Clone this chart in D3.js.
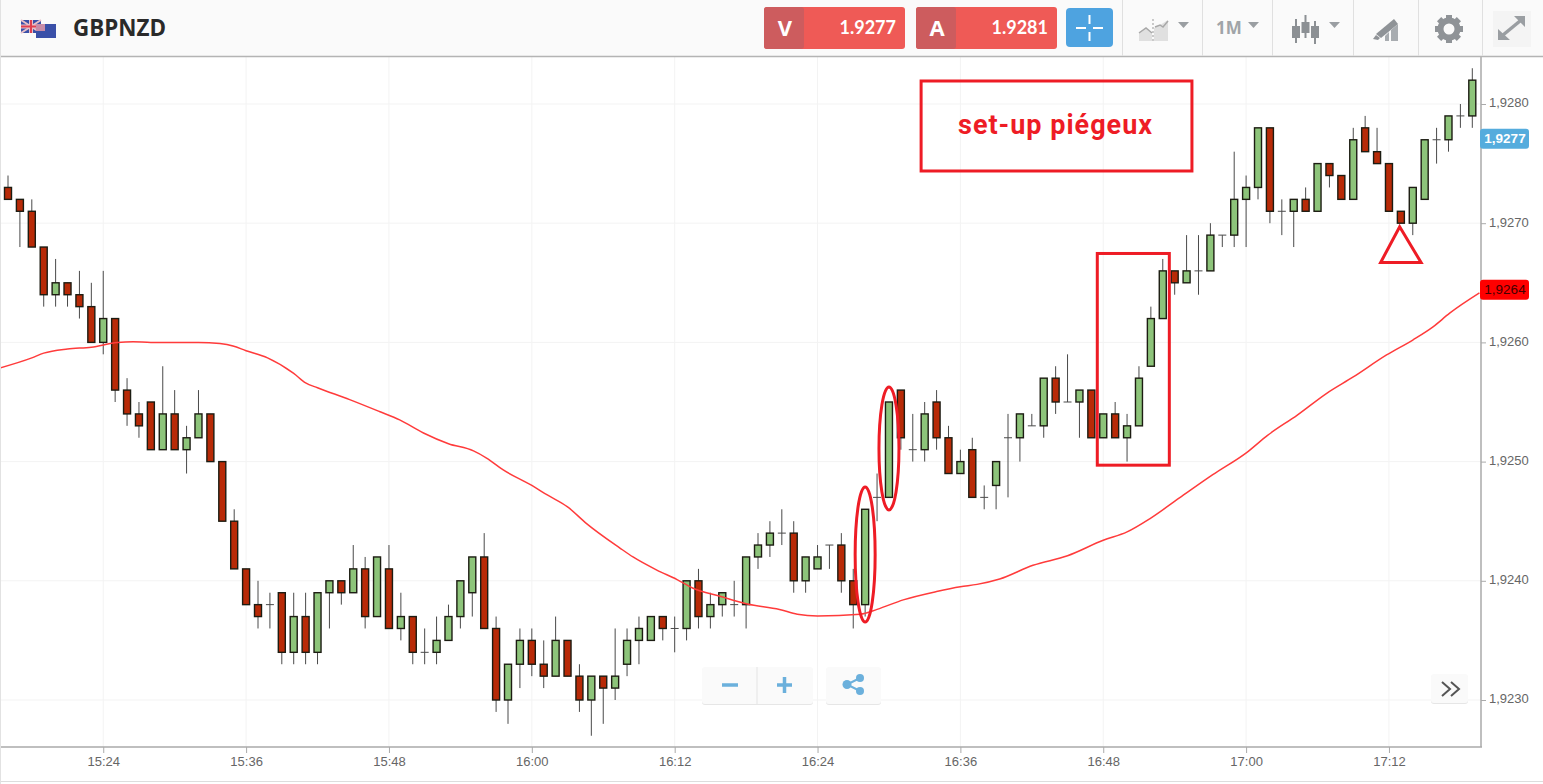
<!DOCTYPE html>
<html lang="fr">
  <head>
    <meta charset="UTF-8" />
    <title>GBPNZD</title>
    <script src="https://cdnjs.cloudflare.com/ajax/libs/d3/7.8.5/d3.min.js"></script>
    <style>
      html, body { margin: 0; padding: 0; background: #fff; overflow: hidden; }
      svg { display: block; }
      .tick text { font-family: "Liberation Sans", Arial, sans-serif; font-size: 13px; fill: #666; }
      .tick line { stroke: #aaa; }
    </style>
  </head>
  <body>
    <script>
      // prices are the digits after "1," (9273 = 1,9273), one candle per minute from 15:16
      var firstCandle = "15:16";
      var opens = [9273,9272,9271,9268,9264,9265,9264,9263,9260,9262,9256,9254,9255,9251,9254,9251,9252,9254,9250,9245,
                   9241,9238,9238,9239,9234,9237,9234,9239,9240,9239,9241,9237,9241,9236,9237,9234,9234,9235,9237,9239,
                   9242,9236,9230,9233,9235,9233,9232,9235,9232,9230,9232,9231,9233,9235,9235,9237,9236,9236,9240,9237,
                   9238,9238,9238,9242,9243,9244,9244,9240,9241,9243,9243,9240,9238,9247,9247,9256,9251,9251,9255,9252,
                   9249,9251,9247,9248,9252,9252,9253,9253,9257,9255,9255,9256,9252,9254,9252,9253,9258,9262,9266,9265,
                   9266,9266,9269,9269,9272,9273,9278,9271,9271,9272,9271,9275,9274,9272,9278,9276,9275,9271,9270,9272,
                   9277,9277,9279,9279];
      var highs = [9274,9272,9272,9268,9267,9265,9266,9265,9266,9262,9257,9255,9255,9258,9256,9253,9256,9254,9250,9246,
                   9241,9240,9239,9239,9239,9239,9239,9240,9240,9243,9242,9242,9243,9239,9237,9236,9237,9238,9240,9242,
                   9244,9237,9233,9236,9236,9235,9237,9235,9233,9232,9232,9236,9236,9237,9237,9237,9237,9240,9241,9239,
                   9239,9240,9242,9244,9245,9246,9245,9242,9243,9243,9244,9241,9246,9249,9255,9256,9254,9255,9256,9253,
                   9251,9252,9248,9250,9254,9254,9254,9257,9258,9259,9256,9256,9254,9255,9254,9258,9263,9267,9266,9269,
                   9269,9270,9269,9276,9274,9278,9278,9272,9272,9273,9275,9275,9274,9278,9279,9278,9275,9271,9273,9277,
                   9278,9279,9280,9283];
      var lows = [9272,9268,9268,9263,9263,9263,9262,9260,9259,9255,9253,9252,9251,9251,9251,9249,9252,9250,9245,9241,
                  9238,9236,9236,9233,9233,9233,9233,9236,9238,9239,9236,9237,9236,9235,9233,9233,9233,9235,9236,9237,
                  9236,9229,9228,9231,9232,9231,9232,9232,9229,9227,9228,9230,9232,9233,9235,9235,9234,9235,9236,9236,
                  9237,9237,9236,9241,9242,9243,9239,9239,9241,9241,9239,9236,9237,9245,9247,9251,9250,9250,9251,9249,
                  9249,9247,9246,9246,9247,9250,9253,9252,9254,9255,9252,9252,9252,9252,9250,9253,9258,9262,9264,9265,
                  9264,9266,9268,9268,9268,9272,9270,9269,9268,9271,9271,9273,9272,9272,9276,9275,9271,9270,9269,9272,
                  9275,9276,9278,9278];
      var closes = [9272,9271,9268,9264,9265,9264,9263,9260,9262,9256,9254,9253,9251,9254,9251,9252,9254,9250,9245,9241,
                    9238,9237,9238,9234,9237,9234,9239,9240,9239,9241,9237,9242,9236,9237,9234,9234,9235,9237,9240,9242,
                    9236,9230,9233,9235,9233,9232,9235,9232,9230,9232,9231,9232,9235,9236,9237,9236,9236,9240,9237,9238,
                    9239,9238,9242,9243,9244,9244,9240,9242,9242,9243,9240,9238,9246,9247,9255,9252,9251,9254,9252,9249,
                    9250,9247,9247,9250,9252,9254,9253,9257,9255,9255,9256,9252,9254,9252,9253,9257,9262,9266,9265,9266,
                    9266,9269,9269,9272,9273,9278,9271,9271,9272,9271,9275,9274,9272,9277,9276,9275,9271,9270,9273,9277,
                    9277,9279,9279,9282];

      // moving average, minutes after the first candle and price
      var maMinutes = [-0.7,2,3,5,7,9.2,10.5,12,16,17.8,18.9,20,21.8,24,25,26,28.7,31.2,32.9,34.9,37,39.1,40.2,41.6,44,45.3,47,48.6,
                       51.4,52.5,54.5,56.2,57.5,59.8,62.1,64.8,66.3,68,71.6,73,75.2,78,80,81.4,83.3,86.1,89,92,94,95.9,98.4,
                       101.2,104.1,105.8,108.3,110.8,113,115.8,118,119.7,121.1,123.6];
      var maValues = [9257.85,9258.7,9259.1,9259.45,9259.6,9260,9260.06,9260,9260,9259.9,9259.7,9259.3,9258.7,9257.4,9256.6,9256.2,
                      9255.2,9254.2,9253.5,9252.4,9251.5,9250.9,9250.3,9249.3,9248,9247.2,9246.2,9244.8,
                      9242.75,9242,9240.9,9240.1,9239.4,9238.7,9238.05,9237.6,9237.2,9237.05,9237.2,9237.6,9238.4,9239.1,
                      9239.5,9239.7,9240.15,9241.3,9242.1,9243.4,9244.1,9245.2,9246.95,
                      9248.9,9250.8,9252.2,9253.9,9255.75,9257.1,9258.95,9260.2,9261.3,9262.45,9264.15];

      var timeTicks = ["15:24","15:36","15:48","16:00","16:12","16:24","16:36","16:48","17:00","17:12"];
      var priceTicks = [9230,9240,9250,9260,9270,9280];

      var w = 1543, h = 784;
      var plotRight = 1481, plotBottom = 747, plotTop = 57;

      var parseTime = d3.timeParse("%H:%M");
      var formatTime = d3.timeFormat("%H:%M");
      var t0 = parseTime(firstCandle);
      function minute(m) { return new Date(t0.getTime() + m * 60000); }

      var xScale = d3.scaleTime()
                     .domain([minute(0), minute(123)])
                     .range([8, 1472.3]);
      var yScale = d3.scaleLinear()
                     .domain([9230, 9280])
                     .range([700, 104]);

      var svg = d3.select("body").append("svg")
                  .attr("width", w)
                  .attr("height", h);

      svg.append("rect").attr("width", w).attr("height", h).attr("fill", "#fff");

      // grid
      svg.selectAll(".vgrid").data(timeTicks).enter().append("line")
         .attr("class", "vgrid")
         .attr("x1", function(d) { return xScale(parseTime(d)); })
         .attr("x2", function(d) { return xScale(parseTime(d)); })
         .attr("y1", plotTop).attr("y2", plotBottom)
         .attr("stroke", "#f3f3f3");
      svg.selectAll(".hgrid").data(priceTicks).enter().append("line")
         .attr("class", "hgrid")
         .attr("x1", 0).attr("x2", plotRight)
         .attr("y1", function(d) { return yScale(d); })
         .attr("y2", function(d) { return yScale(d); })
         .attr("stroke", "#f3f3f3");

      // axes
      var xAxis = d3.axisBottom(xScale)
                    .tickValues(timeTicks.map(parseTime))
                    .tickFormat(formatTime)
                    .tickSize(6)
                    .tickSizeOuter(0);
      var yAxis = d3.axisRight(yScale)
                    .tickValues(priceTicks)
                    .tickFormat(function(d) { return "1," + d; })
                    .tickSize(5)
                    .tickSizeOuter(0);
      var gx = svg.append("g").attr("transform", "translate(0," + plotBottom + ")").call(xAxis);
      var gy = svg.append("g").attr("transform", "translate(" + plotRight + ",0)").call(yAxis);
      gx.select(".domain").remove();
      gy.select(".domain").remove();
      gx.selectAll(".tick text").attr("y", 10);
      gy.selectAll(".tick text").attr("x", 8).attr("dy", "0.22em");

      svg.append("line").attr("x1", 0).attr("x2", plotRight + 1).attr("y1", plotBottom).attr("y2", plotBottom)
         .attr("stroke", "#aaa").attr("stroke-width", 1.5);
      svg.append("line").attr("x1", plotRight).attr("x2", plotRight).attr("y1", plotTop).attr("y2", plotBottom)
         .attr("stroke", "#aaa").attr("stroke-width", 1.5);
      svg.append("line").attr("x1", 0).attr("x2", w).attr("y1", 781.5).attr("y2", 781.5).attr("stroke", "#ddd");

      // candles
      var candles = svg.append("g").selectAll("g").data(opens).enter().append("g");
      candles.each(function(d, i) {
        var x = xScale(minute(i));
        var g = d3.select(this);
        g.append("line")
         .attr("x1", x).attr("x2", x)
         .attr("y1", yScale(highs[i])).attr("y2", yScale(lows[i]))
         .attr("stroke", "#4a4a4a");
        if (opens[i] == closes[i]) {
          g.append("line")
           .attr("x1", x - 4).attr("x2", x + 4)
           .attr("y1", yScale(opens[i])).attr("y2", yScale(opens[i]))
           .attr("stroke", "#4a4a4a");
        } else {
          g.append("rect")
           .attr("x", x - 3.5)
           .attr("width", 7)
           .attr("y", yScale(Math.max(opens[i], closes[i])))
           .attr("height", Math.abs(yScale(opens[i]) - yScale(closes[i])))
           .attr("fill", closes[i] > opens[i] ? "#8dc47a" : "#b82a07")
           .attr("stroke", "#1c1c12")
           .attr("stroke-width", 1.4);
        }
      });

      // moving average
      var maLine = d3.line()
                     .x(function(d, i) { return xScale(minute(maMinutes[i])); })
                     .y(function(d) { return yScale(d); })
                     .curve(d3.curveMonotoneX);
      svg.append("path").datum(maValues)
         .attr("d", maLine)
         .attr("fill", "none")
         .attr("stroke", "#ff3b3b")
         .attr("stroke-width", 1.5);

      // drawn-on annotations
      var annotRed = "#ee1c25";
      function boxFrom(m1, m2, p1, p2) {
        svg.append("rect")
           .attr("x", xScale(minute(m1))).attr("y", yScale(p1))
           .attr("width", xScale(minute(m2)) - xScale(minute(m1)))
           .attr("height", yScale(p2) - yScale(p1))
           .attr("fill", "none").attr("stroke", annotRed).attr("stroke-width", 3);
      }
      function ovalAt(m, p1, p2) {
        svg.append("ellipse")
           .attr("cx", xScale(minute(m)))
           .attr("cy", (yScale(p1) + yScale(p2)) / 2)
           .attr("rx", 10)
           .attr("ry", (yScale(p2) - yScale(p1)) / 2)
           .attr("fill", "none").attr("stroke", annotRed).attr("stroke-width", 3);
      }
      boxFrom(76.7, 99.45, 9281.93, 9274.38);
      boxFrom(91.5, 97.55, 9267.46, 9249.7);
      ovalAt(72, 9247.87, 9236.55);
      ovalAt(74, 9256.26, 9245.94);
      svg.append("path")
         .attr("d", d3.line()([[xScale(minute(116.9)), yScale(9269.7)],
                               [xScale(minute(115.3)), yScale(9266.7)],
                               [xScale(minute(118.7)), yScale(9266.7)]]) + "Z")
         .attr("fill", "none").attr("stroke", annotRed).attr("stroke-width", 3);
      svg.append("text")
         .attr("x", xScale(minute(87.95))).attr("y", yScale(9277.45))
         .attr("text-anchor", "middle")
         .style("font-family", "Roboto, sans-serif")
         .style("font-weight", "bold").style("font-size", "27px")
         .attr("fill", annotRed)
         .attr("textLength", 194)
         .text("set-up piégeux");

      // price flags on the axis
      function flag(value, offset, fill, color, weight) {
        var cy = yScale(value) + offset;
        svg.append("rect").attr("x", 1480).attr("y", cy - 10).attr("width", 49).attr("height", 20)
           .attr("rx", 3).attr("fill", fill);
        svg.append("text").attr("x", 1505).attr("y", cy + 4.5).attr("text-anchor", "middle")
           .style("font-family", "'Liberation Sans', Arial, sans-serif")
           .style("font-size", "13.5px").style("font-weight", weight)
           .attr("fill", color).text("1," + value);
      }
      flag(9277, -1, "#55acdd", "#fff", "bold");
      flag(9264, -5, "#ff0000", "#400", "normal");

      // toolbar
      var bar = svg.append("g");
      bar.append("rect").attr("width", w).attr("height", 56).attr("fill", "#fafafa");
      bar.append("line").attr("x1", 0).attr("x2", w).attr("y1", 56.5).attr("y2", 56.5).attr("stroke", "#b4b4b4").attr("stroke-width", 1.5);
      [1122, 1202, 1272, 1353, 1418, 1482].forEach(function(x) {
        bar.append("line").attr("x1", x + 0.5).attr("x2", x + 0.5).attr("y1", 0).attr("y2", 56).attr("stroke", "#e0e0e0");
      });

      function quote(x, letter, value) {
        bar.append("rect").attr("x", x).attr("y", 7).attr("width", 141).attr("height", 42).attr("rx", 3).attr("fill", "#ef5a56");
        bar.append("rect").attr("x", x).attr("y", 7).attr("width", 40).attr("height", 42).attr("rx", 3).attr("fill", "#cd5c5e");
        bar.append("text").attr("x", x + 21).attr("y", 36).attr("text-anchor", "middle")
           .style("font-family", "'Open Sans', sans-serif").style("font-weight", "bold").style("font-size", "22px")
           .attr("fill", "#fff").text(letter);
        bar.append("text").attr("x", x + 132).attr("y", 34).attr("text-anchor", "end")
           .style("font-family", "Lato, sans-serif").style("font-weight", "bold").style("font-size", "18px")
           .attr("fill", "#fff").text(value);
      }
      quote(764, "V", "1.9277");
      quote(916, "A", "1.9281");

      // crosshair button
      bar.append("rect").attr("x", 1066).attr("y", 8).attr("width", 47).attr("height", 39).attr("rx", 4).attr("fill", "#4ea3e0");
      bar.append("path").attr("d", "M1076 28H1086M1093 28H1103M1089.5 15V24M1089.5 32V41")
         .attr("stroke", "#fff").attr("stroke-width", 2).attr("fill", "none");

      // grey toolbar icons
      var iconGrey = "#a0a4a8";
      function caret(x, y) {
        bar.append("path").attr("d", "M" + x + " " + y + "h11l-5.5 6z").attr("fill", "#9a9ea2");
      }
      bar.append("path").attr("d", "M1139 41V32L1146 28L1152 33V41Z").attr("fill", "#e0e0e0");
      bar.append("path").attr("d", "M1154 41V28L1160 25L1168 20V41Z").attr("fill", "#e0e0e0");
      bar.append("path").attr("d", "M1139 33L1146 28L1152 33M1155 27L1160 25L1163 27L1168 21").attr("fill", "none").attr("stroke", "#a8a8a8").attr("stroke-width", 1.5);
      bar.append("line").attr("x1", 1153).attr("x2", 1153).attr("y1", 19).attr("y2", 42).attr("stroke", "#999").attr("stroke-dasharray", "2,2");
      caret(1178, 22);
      bar.append("text").attr("x", 1216).attr("y", 34)
         .style("font-family", "'Open Sans', sans-serif").style("font-weight", "bold").style("font-size", "17px")
         .attr("fill", iconGrey).text("1M");
      caret(1248, 22);
      [[1296, 26, 38, 19, 43], [1305.5, 22, 33, 15, 38], [1315, 26, 38, 21, 44]].forEach(function(c) {
        bar.append("line").attr("x1", c[0]).attr("x2", c[0]).attr("y1", c[3]).attr("y2", c[4]).attr("stroke", "#8c9094").attr("stroke-width", 2);
        bar.append("rect").attr("x", c[0] - 4).attr("y", c[1]).attr("width", 8).attr("height", c[2] - c[1]).attr("fill", "#8c9094");
      });
      caret(1329, 22);
      bar.append("path").attr("d", "M1376 34L1394 19L1398 24L1381 38Z").attr("fill", "#8f9397");
      bar.append("path").attr("d", "M1373 39L1376 35L1380 38L1378 40Z").attr("fill", "#8f9397");
      bar.append("path").attr("d", "M1385 41V36L1389 32V41ZM1391 41V30L1398 24V41Z").attr("fill", "#a8acb0");
      // gear
      var gear = bar.append("g").attr("transform", "translate(1449,29)");
      d3.range(8).forEach(function(i) {
        gear.append("rect").attr("x", -3).attr("y", -14).attr("width", 6).attr("height", 8)
            .attr("fill", "#8f9397").attr("transform", "rotate(" + i * 45 + ")");
      });
      gear.append("circle").attr("r", 8.5).attr("fill", "none").attr("stroke", "#8f9397").attr("stroke-width", 6);
      // expand
      bar.append("rect").attr("x", 1493).attr("y", 11).attr("width", 38).attr("height", 36).attr("fill", "#f4f4f4");
      bar.append("path").attr("d", "M1503 35L1520 21").attr("stroke", "#9a9ea2").attr("stroke-width", 3.5);
      bar.append("path").attr("d", "M1498 29V40H1510ZM1514 16H1525V27Z").attr("fill", "#9a9ea2");

      // flags next to the name
      function flagIcon(x, y, w, h, body) {
        bar.append("rect").attr("x", x).attr("y", y).attr("width", w).attr("height", h).attr("fill", "#3a50a8");
        body(x, y, w, h);
      }
      flagIcon(21, 20, 20, 13, function(x, y, w, h) {
        bar.append("path").attr("d", "M" + x + " " + y + "L" + (x + w) + " " + (y + h) + "M" + (x + w) + " " + y + "L" + x + " " + (y + h))
           .attr("stroke", "#e8c0c8").attr("stroke-width", 2);
        bar.append("path").attr("d", "M" + (x + w / 2) + " " + y + "V" + (y + h) + "M" + x + " " + (y + h / 2) + "H" + (x + w))
           .attr("stroke", "#e8c0c8").attr("stroke-width", 4);
        bar.append("path").attr("d", "M" + (x + w / 2) + " " + y + "V" + (y + h) + "M" + x + " " + (y + h / 2) + "H" + (x + w))
           .attr("stroke", "#e04050").attr("stroke-width", 2);
      });
      flagIcon(36, 24, 20, 14, function(x, y, w, h) {
        bar.append("rect").attr("x", x).attr("y", y).attr("width", 9).attr("height", 7).attr("fill", "#c88ca8");
      });
      bar.append("text").attr("x", 73).attr("y", 36)
         .style("font-family", "'Open Sans', sans-serif").style("font-weight", "bold").style("font-size", "22.4px")
         .attr("fill", "#2a2a2a").text("GBPNZD");

      // left edge shadow
      svg.append("rect").attr("x", 0).attr("y", 0).attr("width", 1).attr("height", h).attr("fill", "#e2e2e2");

      // zoom and share buttons
      var ctl = svg.append("g");
      function panel(x, y, w2, h2) {
        ctl.append("rect").attr("x", x).attr("y", y + 1).attr("width", w2).attr("height", h2).attr("rx", 3).attr("fill", "#e6e6e6");
        ctl.append("rect").attr("x", x).attr("y", y).attr("width", w2).attr("height", h2).attr("rx", 3).attr("fill", "#fafafa");
      }
      panel(702, 667, 111, 37);
      panel(826, 667, 55, 37);
      panel(1431, 674, 37, 29);
      ctl.append("line").attr("x1", 757).attr("x2", 757).attr("y1", 667).attr("y2", 704).attr("stroke", "#e4e4e4");
      ctl.append("path").attr("d", "M722 685H738M777 685H792M784.5 677V693").attr("stroke", "#6bb0dc").attr("stroke-width", 3.5);
      ctl.append("path").attr("d", "M860 678L847 684.5L860 691").attr("stroke", "#6bb0dc").attr("stroke-width", 2).attr("fill", "none");
      [[860, 678, 4], [847, 684.5, 4.5], [860, 691, 4]].forEach(function(c) {
        ctl.append("circle").attr("cx", c[0]).attr("cy", c[1]).attr("r", c[2]).attr("fill", "#6bb0dc");
      });
      ctl.append("path").attr("d", "M1442 682L1450 689L1442 696M1451 682L1459 689L1451 696")
         .attr("stroke", "#555").attr("stroke-width", 2).attr("fill", "none");
    </script>
  </body>
</html>
